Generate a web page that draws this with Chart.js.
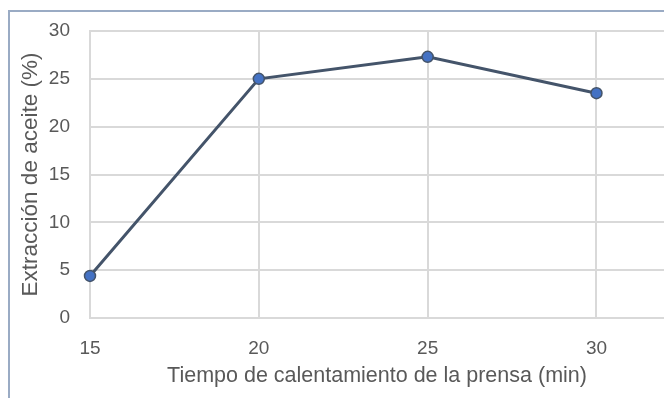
<!DOCTYPE html>
<html>
<head>
<meta charset="utf-8">
<script src="https://cdn.jsdelivr.net/npm/chart.js@4/dist/chart.umd.min.js"></script>
<style>
  html, body { margin: 0; padding: 0; background: #fff; overflow: hidden; width: 664px; height: 398px; }
  #frame { position: absolute; left: 8px; top: 10px; width: 720px; height: 500px; border: 2px solid #9aabc4; box-sizing: border-box; }
  #wrap { position: absolute; left: 0; top: 0; width: 664px; height: 398px; }
</style>
</head>
<body>
<div id="frame"></div>
<div id="wrap"><canvas id="c" width="664" height="398"></canvas></div>
<script>
// Heating time of the press (min) and oil extraction (%)
const tiempos = [15, 20, 25, 30];
const extraccion = [4.4, 25.0, 27.3, 23.5];
const xTicks = [15, 20, 25, 30];
const yTicks = [0, 5, 10, 15, 20, 25, 30];

const textColor = '#595959';
const gridColor = '#d9d9d9';
const fontFamily = '"Liberation Sans", Arial, sans-serif';

new Chart(document.getElementById('c'), {
  type: 'scatter',
  data: {
    datasets: [{
      data: tiempos.map((t, i) => ({ x: t, y: extraccion[i] })),
      showLine: true,
      clip: false,
      borderColor: '#44546a',
      borderWidth: 3,
      pointRadius: 5.5,
      pointBackgroundColor: '#4472c4',
      pointBorderColor: '#44546a',
      pointBorderWidth: 1.5,
      tension: 0
    }]
  },
  options: {
    responsive: false,
    animation: false,
    layout: { autoPadding: false, padding: { top: 31, left: 0, right: 0, bottom: 0 } },
    plugins: { legend: { display: false }, tooltip: { enabled: false } },
    scales: {
      x: {
        type: 'linear',
        min: 15,
        max: 32,
        afterBuildTicks: s => { s.ticks = xTicks.map(v => ({ value: v })); },
        afterFit: s => { s.height = 80; s.paddingLeft = 0; s.paddingRight = 0; },
        grid: { color: gridColor, lineWidth: 2, drawTicks: false },
        border: { color: gridColor, width: 2 },
        ticks: { color: textColor, padding: 19, font: { family: fontFamily, size: 19 } },
        title: {
          display: true,
          text: 'Tiempo de calentamiento de la prensa (min)',
          color: textColor,
          font: { family: fontFamily, size: 21.5 },
          padding: { top: 0, bottom: 9 }
        }
      },
      y: {
        min: 0,
        max: 30,
        afterBuildTicks: s => { s.ticks = yTicks.map(v => ({ value: v })); },
        afterFit: s => { s.width = 90; s.paddingTop = 0; s.paddingBottom = 0; },
        grid: { color: gridColor, lineWidth: 2, drawTicks: false },
        border: { color: gridColor, width: 2 },
        ticks: { color: textColor, padding: 20, font: { family: fontFamily, size: 19 } },
        title: {
          display: true,
          text: 'Extracción de aceite (%)',
          color: textColor,
          font: { family: fontFamily, size: 22.5 },
          padding: { top: 17, bottom: 0 }
        }
      }
    }
  }
});
</script>
</body>
</html>
